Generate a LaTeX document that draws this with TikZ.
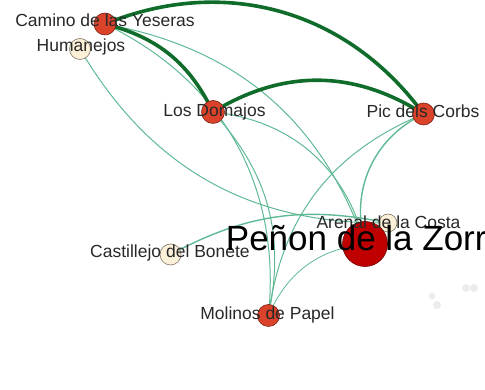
\documentclass[tikz,border=0pt]{standalone}
\usepackage{fontspec}
\setmainfont{Liberation Sans}
\definecolor{thickg}{RGB}{16,108,42}
\definecolor{thing}{RGB}{95,185,148}
\definecolor{rednode}{RGB}{218,66,42}
\definecolor{redline}{RGB}{120,35,20}
\definecolor{pennode}{RGB}{192,0,0}
\definecolor{penline}{RGB}{110,0,0}
\definecolor{creamnode}{RGB}{253,240,216}
\definecolor{creamline}{RGB}{125,115,100}
\definecolor{labelc}{RGB}{40,40,40}
\definecolor{ghost}{RGB}{236,236,236}
\begin{document}
\begin{tikzpicture}[x=1pt,y=1pt,
  strongedge/.style={draw=thickg, line width=3.6pt},
  weakedge/.style={draw=thing, line width=1pt},
  rednd/.style={circle, draw=redline, fill=rednode, line width=0.6pt, inner sep=0pt, minimum size=22pt},
  creamnd/.style={circle, draw=creamline, fill=creamnode, line width=0.6pt, inner sep=0pt, minimum size=21pt},
  bignd/.style={circle, draw=penline, fill=pennode, line width=0.6pt, inner sep=0pt, minimum size=45pt},
  lab/.style={anchor=base, inner sep=0pt, text=labelc, font=\fontsize{17.5}{20}\selectfont},
  biglab/.style={anchor=base, inner sep=0pt, text=black, font=\fontsize{35}{40}\selectfont},
  ghostnd/.style={circle, fill=ghost, inner sep=0pt, minimum size=#1}
]
\useasboundingbox (0,0) rectangle (485,390);
% positions
\coordinate (cam) at (105,366);
\coordinate (hum) at (80,341);
\coordinate (dom) at (213,278);
\coordinate (pic) at (423.5,276);
\coordinate (are) at (388,167);
\coordinate (pen) at (365,146);
\coordinate (cas) at (170.5,135.5);
\coordinate (mol) at (268.5,74.5);
% thin edges
\draw[weakedge] (cam) to[bend left=30] (pen);
\draw[weakedge] (cam) to[bend left=35] (mol);
\draw[weakedge] (dom) to[bend left=27] (mol);
\draw[weakedge] (dom) to[bend left=35] (pen);
\draw[weakedge] (hum) to[bend right=30] (are);
\draw[weakedge, line width=1.4pt] (cas) to[bend left=20] (are);
\draw[weakedge, line width=1.4pt] (pic) to[bend right=40] (pen);
\draw[weakedge] (pic) to[bend right=30] (mol);
\draw[weakedge, line width=0.8pt] (pen) to[bend right=30] (mol);
% thick edges
\draw[strongedge] (cam) to[bend left=38] (pic);
\draw[strongedge] (cam) to[bend left=25] (dom);
\draw[strongedge] (dom) to[bend left=32] (pic);
% faint nodes
\node[ghostnd=7pt] (g1) at (432,94) {};
\node[ghostnd=8pt] (g2) at (437,85) {};
\node[ghostnd=8pt] (g3) at (466,102) {};
\node[ghostnd=8pt] (g4) at (474,102) {};
% nodes
\node[rednd] (camN) at (cam) {};
\node[creamnd] (humN) at (hum) {};
\node[rednd, minimum size=23pt] (domN) at (dom) {};
\node[rednd] (picN) at (pic) {};
\node[creamnd, minimum size=18pt] (areN) at (are) {};
\node[bignd] (penN) at (pen) {};
\node[creamnd] (casN) at (cas) {};
\node[rednd] (molN) at (mol) {};
% labels
\node[lab] (camL) at (105,363) {Camino de las Yeseras};
\node[lab] (humL) at (81,338) {Humanejos};
\node[lab] (domL) at (214.5,273) {Los Domajos};
\node[lab] (picL) at (423,272) {Pic dels Corbs};
\node[lab] (casL) at (170,132) {Castillejo del Bonete};
\node[lab] (molL) at (267.5,70) {Molinos de Papel};
\node[lab] (areL) at (388.5,161) {Arenal de la Costa};
\node[biglab] (penL) at (366,139) {Peñon de la Zorra};
\end{tikzpicture}
\end{document}
